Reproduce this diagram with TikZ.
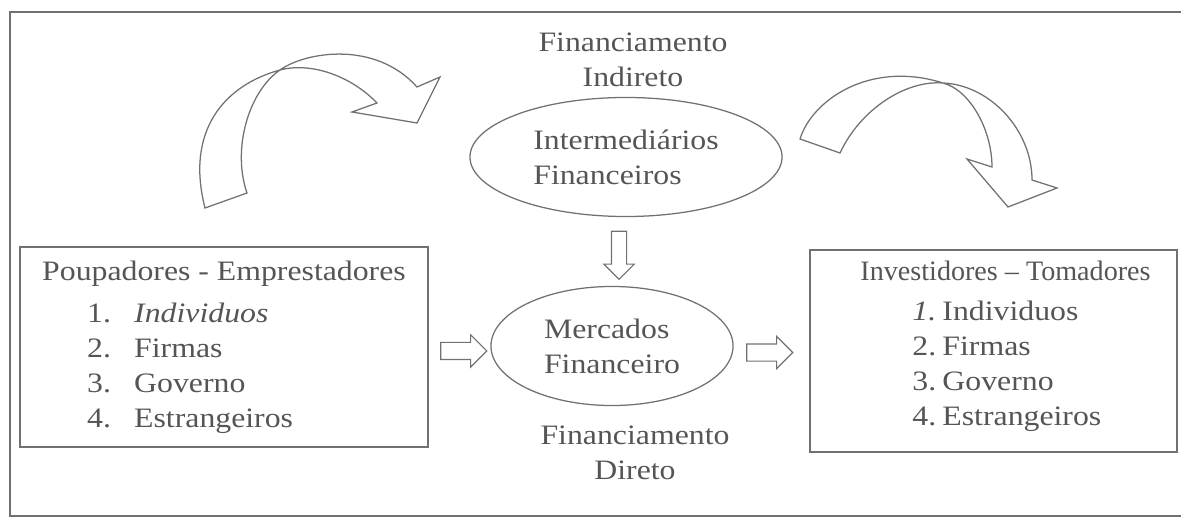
\documentclass[tikz,border=0pt]{standalone}
\usepackage{fontspec}
\setmainfont{Liberation Serif}[FakeStretch=1.13]
\newfontfamily\plainserif{Liberation Serif}[Ligatures=TeX]
\usetikzlibrary{%
	calc,%
	positioning,%
	shapes.geometric,%
	shapes.arrows
}
\definecolor{linegray}{HTML}{717171}
\definecolor{textgray}{HTML}{555555}
\tikzset{
	txt/.style={text=textgray, font=\fontsize{20}{24.9}\selectfont},
	box/.style={txt, draw=linegray, line width=0.9pt, rectangle, inner sep=0pt, align=left},
	blob/.style={txt, draw=linegray, line width=0.9pt, ellipse, inner sep=0pt, align=left},
	tag/.style={txt, inner sep=0pt, align=center},
	blockarrow/.style={draw=linegray, line width=0.8pt, single arrow, inner xsep=0pt,
		inner ysep=0.2cm, single arrow head extend=0.19cm},
	bent/.style={draw=linegray, line width=0.9pt, line join=miter},
	frame/.style={draw=linegray, line width=0.9pt}
}

\begin{document}
\begin{tikzpicture}[x=0.025cm, y=-0.025cm]
		\useasboundingbox (0,0) rectangle (1181,518);
		
		% Frame
		\draw[frame] (1181,12) -- (10,12) -- (10,516) -- (1181,516);
		
		% Boxes
		\node[box, minimum width=10.2cm, minimum height=5cm] (savers) at (224,347)
			{Poupadores - Emprestadores\\[0.175cm]
			 \hspace*{1.125cm}\makebox[1.175cm][l]{1.}\textit{Individuos}\\
			 \hspace*{1.125cm}\makebox[1.175cm][l]{2.}Firmas\\
			 \hspace*{1.125cm}\makebox[1.175cm][l]{3.}Governo\\
			 \hspace*{1.125cm}\makebox[1.175cm][l]{4.}Estrangeiros};
		\node[box, minimum width=9.175cm, minimum height=5.05cm] (borrowers) at (993.5,351)
			{\hspace*{0.6cm}{\plainserif Investidores – Tomadores}\\[0.125cm]
			 \hspace*{1.9cm}\makebox[0.75cm][l]{\textit{1.}}Individuos\\
			 \hspace*{1.9cm}\makebox[0.75cm][l]{2.}Firmas\\
			 \hspace*{1.9cm}\makebox[0.75cm][l]{3.}Governo\\
			 \hspace*{1.9cm}\makebox[0.75cm][l]{4.}Estrangeiros\rule[-0.4cm]{0pt}{0pt}};
		
		% Ellipses
		\node[blob, minimum width=7.8cm, minimum height=2.975cm] (intermed) at (626,157)
			{Intermediários\\Financeiros};
		\node[blob, minimum width=6.05cm, minimum height=2.975cm] (market) at (612,346)
			{Mercados\\Financeiro};
		
		% Labels
		\node[tag] (indirect) at (633,59.5) {Financiamento\\Indireto};
		\node[tag] (direct) at (635,453) {Financiamento\\Direto};
		
		% Block arrows
		\node[blockarrow, minimum height=1.15cm, yshift=-0.11cm] (toMarket)
			at ($(savers.east)!0.5!(market.west)$) {};
		\node[blockarrow, minimum height=1.15cm, yshift=-0.11cm] (toBorrowers)
			at ($(market.east)!0.42!(borrowers.west)$) {};
		\node[blockarrow, minimum height=1.2cm, inner ysep=0.175cm, rotate=-90] (down)
			at ($(intermed.south)!0.5!(market.north)$) {};
		
		% Curved arrows
		\draw[bent] (205,208) -- (247,193) .. controls (232,150) and (248,92) .. (280,70)
			.. controls (305,52) and (375,40) .. (417,87) -- (440,77) -- (417,123)
			-- (352,112) -- (377,103) .. controls (350,75) and (310,62) .. (280,70)
			.. controls (225,85) and (185,130) .. (205,208) -- cycle;
		\draw[bent] (800,139) .. controls (812,100) and (870,60) .. (943,83)
			.. controls (970,90) and (992,130) .. (992,167) -- (967,159) -- (1008,207)
			-- (1057,188) -- (1032,180) .. controls (1032,130) and (990,85) .. (943,83)
			.. controls (905,80) and (860,110) .. (840,153) -- cycle;
	\end{tikzpicture}
\end{document}
